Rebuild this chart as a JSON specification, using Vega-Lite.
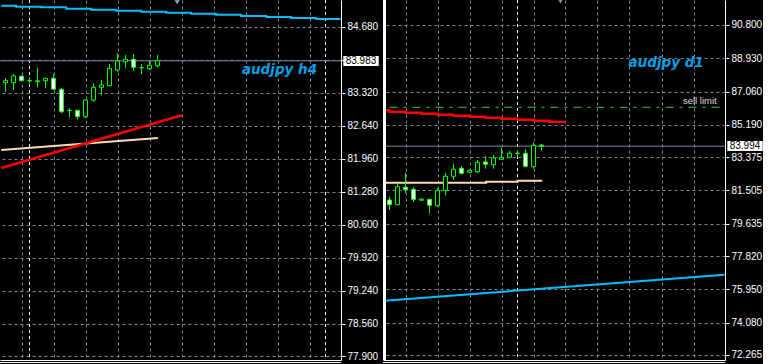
{
  "$schema": "https://vega.github.io/schema/vega-lite/v6.json",
  "background": "#000000",
  "padding": {"left": -4, "top": -2, "right": 0, "bottom": 0},
  "spacing": 42,
  "bounds": "flush",
  "config": {"view": {"stroke": null}},
  "datasets": {
    "candlesL": [
      {"i": 1, "o": 83.532, "h": 83.623, "l": 83.346, "c": 83.573},
      {"i": 2, "o": 83.532, "h": 83.711, "l": 83.381, "c": 83.670},
      {"i": 3, "o": 83.664, "h": 83.680, "l": 83.560, "c": 83.573},
      {"i": 4, "o": 83.575, "h": 83.643, "l": 83.520, "c": 83.571},
      {"i": 5, "o": 83.553, "h": 83.835, "l": 83.437, "c": 83.570},
      {"i": 6, "o": 83.573, "h": 83.623, "l": 83.417, "c": 83.623},
      {"i": 7, "o": 83.623, "h": 83.711, "l": 83.381, "c": 83.396},
      {"i": 8, "o": 83.396, "h": 83.423, "l": 82.901, "c": 82.934},
      {"i": 9, "o": 82.958, "h": 83.004, "l": 82.819, "c": 82.962},
      {"i": 10, "o": 82.963, "h": 82.970, "l": 82.778, "c": 82.831},
      {"i": 11, "o": 82.831, "h": 83.180, "l": 82.800, "c": 83.175},
      {"i": 12, "o": 83.175, "h": 83.520, "l": 83.140, "c": 83.437},
      {"i": 13, "o": 83.437, "h": 83.588, "l": 83.278, "c": 83.485},
      {"i": 14, "o": 83.470, "h": 83.917, "l": 83.470, "c": 83.829},
      {"i": 15, "o": 83.794, "h": 84.138, "l": 83.759, "c": 83.979},
      {"i": 16, "o": 83.965, "h": 84.103, "l": 83.829, "c": 84.014},
      {"i": 17, "o": 84.014, "h": 84.117, "l": 83.779, "c": 83.849},
      {"i": 18, "o": 83.843, "h": 83.917, "l": 83.711, "c": 83.839},
      {"i": 19, "o": 83.820, "h": 83.985, "l": 83.794, "c": 83.890},
      {"i": 20, "o": 83.882, "h": 84.103, "l": 83.841, "c": 83.983}
    ],
    "candlesR": [
      {"i": 1, "o": 80.971, "h": 81.156, "l": 80.409, "c": 80.707},
      {"i": 2, "o": 80.707, "h": 81.869, "l": 80.707, "c": 81.718},
      {"i": 3, "o": 81.684, "h": 82.504, "l": 81.347, "c": 81.549},
      {"i": 4, "o": 81.572, "h": 81.684, "l": 80.875, "c": 81.010},
      {"i": 5, "o": 80.960, "h": 81.083, "l": 80.915, "c": 81.020},
      {"i": 6, "o": 81.010, "h": 81.010, "l": 80.224, "c": 80.673},
      {"i": 7, "o": 80.651, "h": 81.628, "l": 80.594, "c": 81.516},
      {"i": 8, "o": 81.516, "h": 82.470, "l": 81.235, "c": 82.302},
      {"i": 9, "o": 82.302, "h": 82.993, "l": 82.094, "c": 82.695},
      {"i": 10, "o": 82.751, "h": 82.880, "l": 82.414, "c": 82.470},
      {"i": 11, "o": 82.527, "h": 82.695, "l": 82.470, "c": 82.639},
      {"i": 12, "o": 82.560, "h": 83.217, "l": 82.470, "c": 83.088},
      {"i": 13, "o": 83.105, "h": 83.442, "l": 82.729, "c": 82.976},
      {"i": 14, "o": 82.953, "h": 83.498, "l": 82.729, "c": 83.330},
      {"i": 15, "o": 83.257, "h": 83.908, "l": 83.257, "c": 83.369},
      {"i": 16, "o": 83.369, "h": 83.723, "l": 83.313, "c": 83.594},
      {"i": 17, "o": 83.598, "h": 83.779, "l": 83.403, "c": 83.590},
      {"i": 18, "o": 83.594, "h": 83.835, "l": 82.807, "c": 82.864},
      {"i": 19, "o": 82.841, "h": 84.212, "l": 82.729, "c": 84.043},
      {"i": 20, "o": 84.050, "h": 84.116, "l": 83.740, "c": 83.994}
    ],
    "linesL": [
      {"name": "blue", "i": 0.47, "p": 85.119},
      {"name": "blue", "i": 2.34, "p": 85.098},
      {"name": "blue", "i": 5.46, "p": 85.086},
      {"name": "blue", "i": 8.59, "p": 85.057},
      {"name": "blue", "i": 11.71, "p": 85.036},
      {"name": "blue", "i": 14.84, "p": 85.016},
      {"name": "blue", "i": 17.96, "p": 84.995},
      {"name": "blue", "i": 21.09, "p": 84.974},
      {"name": "blue", "i": 24.21, "p": 84.954},
      {"name": "blue", "i": 27.34, "p": 84.933},
      {"name": "blue", "i": 30.46, "p": 84.906},
      {"name": "blue", "i": 33.59, "p": 84.886},
      {"name": "blue", "i": 36.71, "p": 84.865},
      {"name": "blue", "i": 39.84, "p": 84.845},
      {"name": "blue", "i": 42.9, "p": 84.845},
      {"name": "red", "i": 0.47, "p": 81.775},
      {"name": "red", "i": 23.05, "p": 82.860},
      {"name": "tan", "i": 0.47, "p": 82.147},
      {"name": "tan", "i": 20.05, "p": 82.392}
    ],
    "linesR": [
      {"name": "red", "i": 0.375, "p": 86.009},
      {"name": "red", "i": 1, "p": 85.930},
      {"name": "red", "i": 3, "p": 85.874},
      {"name": "red", "i": 5, "p": 85.818},
      {"name": "red", "i": 7, "p": 85.762},
      {"name": "red", "i": 9, "p": 85.706},
      {"name": "red", "i": 11, "p": 85.650},
      {"name": "red", "i": 13, "p": 85.593},
      {"name": "red", "i": 15, "p": 85.537},
      {"name": "red", "i": 17, "p": 85.481},
      {"name": "red", "i": 19, "p": 85.425},
      {"name": "red", "i": 21, "p": 85.369},
      {"name": "red", "i": 23.05, "p": 85.369},
      {"name": "tan", "i": 0.375, "p": 81.942},
      {"name": "tan", "i": 13.09, "p": 82.000},
      {"name": "tan", "i": 17, "p": 82.055},
      {"name": "tan", "i": 20.09, "p": 82.055},
      {"name": "blue", "i": 0.375, "p": 75.305},
      {"name": "blue", "i": 42.9, "p": 76.775},
      {"name": "sell", "i": 1, "p": 86.177},
      {"name": "sell", "i": 42.34, "p": 86.177}
    ],
    "sepL": [{"i": 4}, {"i": 41}],
    "sepR": [{"i": 17}],
    "lastL": [{"p": 83.983, "x": 43.225, "x2": 47.65, "xm": 45.44, "top": 84.082, "bot": 83.876}],
    "lastR": [{"p": 83.994, "x": 43.225, "x2": 47.65, "xm": 45.44, "top": 84.285, "bot": 83.723}],
    "labelL": [{"i": 30.55, "p": 83.711, "label": "audjpy h4"}],
    "labelR": [{"i": 30.875, "p": 88.413, "label": "audjpy d1"}, {"i": 37.675, "p": 86.363, "label": "sell limit", "small": true}],
    "markL": [{"i": 22.46, "p": 85.205}],
    "markR": [{"i": 22.375, "p": 92.176}],
    "bottomL": [{"p": 77.7665}],
    "bottomR": [{"p": 71.8435}],
    "borderR": [{"i": 0.375}]
  },
  "hconcat": [
    {
      "width": 341,
      "height": 360,
      "layer": [
        {
          "data": {"name": "sepL"},
          "mark": {"type": "rule", "color": "#FFFFFF", "strokeDash": [3, 3], "strokeWidth": 1},
          "encoding": {
            "x": {"field": "i", "type": "quantitative", "title": null,
              "scale": {"domain": [0.3125, 42.9375], "nice": false, "zero": false, "padding": 0},
              "axis": {"title": null, "orient": "bottom", "values": [3, 7, 11, 15, 19, 23, 27, 31, 35, 39], "labels": false, "ticks": false, "domain": true, "domainColor": "#FFFFFF", "domainWidth": 1, "grid": true, "gridColor": "#778899", "gridDash": [3, 3], "gridWidth": 1}}
          }
        },
        {
          "data": {"name": "lastL"},
          "mark": {"type": "rule", "color": "#778899", "strokeWidth": 1},
          "encoding": {
            "y": {"field": "p", "type": "quantitative", "title": null,
              "scale": {"domain": [77.818, 85.236], "nice": false, "zero": false, "padding": 0},
              "axis": {"title": null, "orient": "right", "values": [77.9, 78.56, 79.24, 79.92, 80.6, 81.28, 81.96, 82.64, 83.32, 84.0, 84.68], "labelExpr": "datum.value == 84 ? '' : format(datum.value, '.3f')", "labelColor": "#FFFFFF", "labelFont": "Liberation Sans", "labelFontSize": 10, "labelPadding": 2, "labelOverlap": false, "labelFlush": false, "tickColor": "#FFFFFF", "tickSize": 4, "domainColor": "#FFFFFF", "domainWidth": 1, "grid": true, "gridColor": "#778899", "gridDash": [3, 3], "gridWidth": 1}}
          }
        },
        {
          "data": {"name": "linesL"},
          "transform": [{"filter": "datum.name == 'blue'"}],
          "mark": {"type": "line", "color": "#00BFFF", "strokeWidth": 2, "interpolate": "step-after"},
          "encoding": {
            "x": {"field": "i", "type": "quantitative", "title": null, "axis": {"title": null, "orient": "bottom", "values": [3, 7, 11, 15, 19, 23, 27, 31, 35, 39], "labels": false, "ticks": false, "domain": true, "domainColor": "#FFFFFF", "domainWidth": 1, "grid": true, "gridColor": "#778899", "gridDash": [3, 3], "gridWidth": 1}},
            "y": {"field": "p", "type": "quantitative", "title": null, "axis": {"title": null, "orient": "right", "values": [77.9, 78.56, 79.24, 79.92, 80.6, 81.28, 81.96, 82.64, 83.32, 84.0, 84.68], "labelExpr": "datum.value == 84 ? '' : format(datum.value, '.3f')", "labelColor": "#FFFFFF", "labelFont": "Liberation Sans", "labelFontSize": 10, "labelPadding": 2, "labelOverlap": false, "labelFlush": false, "tickColor": "#FFFFFF", "tickSize": 4, "domainColor": "#FFFFFF", "domainWidth": 1, "grid": true, "gridColor": "#778899", "gridDash": [3, 3], "gridWidth": 1}}
          }
        },
        {
          "data": {"name": "linesL"},
          "transform": [{"filter": "datum.name == 'tan'"}],
          "mark": {"type": "line", "color": "#FFDAB9", "strokeWidth": 2},
          "encoding": {
            "x": {"field": "i", "type": "quantitative", "title": null, "axis": {"title": null, "orient": "bottom", "values": [3, 7, 11, 15, 19, 23, 27, 31, 35, 39], "labels": false, "ticks": false, "domain": true, "domainColor": "#FFFFFF", "domainWidth": 1, "grid": true, "gridColor": "#778899", "gridDash": [3, 3], "gridWidth": 1}},
            "y": {"field": "p", "type": "quantitative", "title": null, "axis": {"title": null, "orient": "right", "values": [77.9, 78.56, 79.24, 79.92, 80.6, 81.28, 81.96, 82.64, 83.32, 84.0, 84.68], "labelExpr": "datum.value == 84 ? '' : format(datum.value, '.3f')", "labelColor": "#FFFFFF", "labelFont": "Liberation Sans", "labelFontSize": 10, "labelPadding": 2, "labelOverlap": false, "labelFlush": false, "tickColor": "#FFFFFF", "tickSize": 4, "domainColor": "#FFFFFF", "domainWidth": 1, "grid": true, "gridColor": "#778899", "gridDash": [3, 3], "gridWidth": 1}}
          }
        },
        {
          "data": {"name": "linesL"},
          "transform": [{"filter": "datum.name == 'red'"}],
          "mark": {"type": "line", "color": "#FF0000", "strokeWidth": 2.5},
          "encoding": {
            "x": {"field": "i", "type": "quantitative", "title": null, "axis": {"title": null, "orient": "bottom", "values": [3, 7, 11, 15, 19, 23, 27, 31, 35, 39], "labels": false, "ticks": false, "domain": true, "domainColor": "#FFFFFF", "domainWidth": 1, "grid": true, "gridColor": "#778899", "gridDash": [3, 3], "gridWidth": 1}},
            "y": {"field": "p", "type": "quantitative", "title": null, "axis": {"title": null, "orient": "right", "values": [77.9, 78.56, 79.24, 79.92, 80.6, 81.28, 81.96, 82.64, 83.32, 84.0, 84.68], "labelExpr": "datum.value == 84 ? '' : format(datum.value, '.3f')", "labelColor": "#FFFFFF", "labelFont": "Liberation Sans", "labelFontSize": 10, "labelPadding": 2, "labelOverlap": false, "labelFlush": false, "tickColor": "#FFFFFF", "tickSize": 4, "domainColor": "#FFFFFF", "domainWidth": 1, "grid": true, "gridColor": "#778899", "gridDash": [3, 3], "gridWidth": 1}}
          }
        },
        {
          "data": {"name": "candlesL"},
          "mark": {"type": "rule", "color": "#00FF00", "strokeWidth": 1},
          "encoding": {
            "x": {"field": "i", "type": "quantitative", "title": null, "axis": {"title": null, "orient": "bottom", "values": [3, 7, 11, 15, 19, 23, 27, 31, 35, 39], "labels": false, "ticks": false, "domain": true, "domainColor": "#FFFFFF", "domainWidth": 1, "grid": true, "gridColor": "#778899", "gridDash": [3, 3], "gridWidth": 1}},
            "y": {"field": "l", "type": "quantitative", "title": null, "axis": {"title": null, "orient": "right", "values": [77.9, 78.56, 79.24, 79.92, 80.6, 81.28, 81.96, 82.64, 83.32, 84.0, 84.68], "labelExpr": "datum.value == 84 ? '' : format(datum.value, '.3f')", "labelColor": "#FFFFFF", "labelFont": "Liberation Sans", "labelFontSize": 10, "labelPadding": 2, "labelOverlap": false, "labelFlush": false, "tickColor": "#FFFFFF", "tickSize": 4, "domainColor": "#FFFFFF", "domainWidth": 1, "grid": true, "gridColor": "#778899", "gridDash": [3, 3], "gridWidth": 1}},
            "y2": {"field": "h", "title": null}
          }
        },
        {
          "data": {"name": "candlesL"},
          "mark": {"type": "bar", "width": 4, "stroke": "#00FF00", "strokeWidth": 1},
          "encoding": {
            "x": {"field": "i", "type": "quantitative", "title": null, "axis": {"title": null, "orient": "bottom", "values": [3, 7, 11, 15, 19, 23, 27, 31, 35, 39], "labels": false, "ticks": false, "domain": true, "domainColor": "#FFFFFF", "domainWidth": 1, "grid": true, "gridColor": "#778899", "gridDash": [3, 3], "gridWidth": 1}},
            "y": {"field": "o", "type": "quantitative", "title": null, "axis": {"title": null, "orient": "right", "values": [77.9, 78.56, 79.24, 79.92, 80.6, 81.28, 81.96, 82.64, 83.32, 84.0, 84.68], "labelExpr": "datum.value == 84 ? '' : format(datum.value, '.3f')", "labelColor": "#FFFFFF", "labelFont": "Liberation Sans", "labelFontSize": 10, "labelPadding": 2, "labelOverlap": false, "labelFlush": false, "tickColor": "#FFFFFF", "tickSize": 4, "domainColor": "#FFFFFF", "domainWidth": 1, "grid": true, "gridColor": "#778899", "gridDash": [3, 3], "gridWidth": 1}},
            "y2": {"field": "c", "title": null},
            "fill": {"condition": {"test": "datum.c > datum.o", "value": "#000000"}, "value": "#FFFFFF"}
          }
        },
        {
          "data": {"name": "labelL"},
          "mark": {"type": "text", "align": "left", "baseline": "alphabetic", "font": "DejaVu Sans", "fontStyle": "italic", "fontWeight": "bold", "fontSize": 13.5, "color": "#00A0E8"},
          "encoding": {
            "x": {"field": "i", "type": "quantitative", "title": null, "axis": {"title": null, "orient": "bottom", "values": [3, 7, 11, 15, 19, 23, 27, 31, 35, 39], "labels": false, "ticks": false, "domain": true, "domainColor": "#FFFFFF", "domainWidth": 1, "grid": true, "gridColor": "#778899", "gridDash": [3, 3], "gridWidth": 1}},
            "y": {"field": "p", "type": "quantitative", "title": null, "axis": {"title": null, "orient": "right", "values": [77.9, 78.56, 79.24, 79.92, 80.6, 81.28, 81.96, 82.64, 83.32, 84.0, 84.68], "labelExpr": "datum.value == 84 ? '' : format(datum.value, '.3f')", "labelColor": "#FFFFFF", "labelFont": "Liberation Sans", "labelFontSize": 10, "labelPadding": 2, "labelOverlap": false, "labelFlush": false, "tickColor": "#FFFFFF", "tickSize": 4, "domainColor": "#FFFFFF", "domainWidth": 1, "grid": true, "gridColor": "#778899", "gridDash": [3, 3], "gridWidth": 1}},
            "text": {"field": "label"}
          }
        },
        {
          "data": {"name": "lastL"},
          "mark": {"type": "rect", "color": "#FFFFFF"},
          "encoding": {
            "x": {"field": "x", "type": "quantitative", "title": null, "axis": {"title": null, "orient": "bottom", "values": [3, 7, 11, 15, 19, 23, 27, 31, 35, 39], "labels": false, "ticks": false, "domain": true, "domainColor": "#FFFFFF", "domainWidth": 1, "grid": true, "gridColor": "#778899", "gridDash": [3, 3], "gridWidth": 1}},
            "x2": {"field": "x2", "title": null},
            "y": {"field": "top", "type": "quantitative", "title": null, "axis": {"title": null, "orient": "right", "values": [77.9, 78.56, 79.24, 79.92, 80.6, 81.28, 81.96, 82.64, 83.32, 84.0, 84.68], "labelExpr": "datum.value == 84 ? '' : format(datum.value, '.3f')", "labelColor": "#FFFFFF", "labelFont": "Liberation Sans", "labelFontSize": 10, "labelPadding": 2, "labelOverlap": false, "labelFlush": false, "tickColor": "#FFFFFF", "tickSize": 4, "domainColor": "#FFFFFF", "domainWidth": 1, "grid": true, "gridColor": "#778899", "gridDash": [3, 3], "gridWidth": 1}},
            "y2": {"field": "bot", "title": null}
          }
        },
        {
          "data": {"name": "lastL"},
          "mark": {"type": "text", "align": "center", "baseline": "middle", "font": "Liberation Sans", "fontSize": 10, "color": "#000000"},
          "encoding": {
            "x": {"field": "xm", "type": "quantitative", "title": null, "axis": {"title": null, "orient": "bottom", "values": [3, 7, 11, 15, 19, 23, 27, 31, 35, 39], "labels": false, "ticks": false, "domain": true, "domainColor": "#FFFFFF", "domainWidth": 1, "grid": true, "gridColor": "#778899", "gridDash": [3, 3], "gridWidth": 1}},
            "y": {"field": "p", "type": "quantitative", "title": null, "axis": {"title": null, "orient": "right", "values": [77.9, 78.56, 79.24, 79.92, 80.6, 81.28, 81.96, 82.64, 83.32, 84.0, 84.68], "labelExpr": "datum.value == 84 ? '' : format(datum.value, '.3f')", "labelColor": "#FFFFFF", "labelFont": "Liberation Sans", "labelFontSize": 10, "labelPadding": 2, "labelOverlap": false, "labelFlush": false, "tickColor": "#FFFFFF", "tickSize": 4, "domainColor": "#FFFFFF", "domainWidth": 1, "grid": true, "gridColor": "#778899", "gridDash": [3, 3], "gridWidth": 1}},
            "text": {"field": "p", "type": "quantitative", "format": ".3f"}
          }
        },
        {
          "data": {"name": "bottomL"},
          "mark": {"type": "rule", "color": "#FFFFFF", "strokeWidth": 1},
          "encoding": {
            "y": {"field": "p", "type": "quantitative", "title": null, "axis": {"title": null, "orient": "right", "values": [77.9, 78.56, 79.24, 79.92, 80.6, 81.28, 81.96, 82.64, 83.32, 84.0, 84.68], "labelExpr": "datum.value == 84 ? '' : format(datum.value, '.3f')", "labelColor": "#FFFFFF", "labelFont": "Liberation Sans", "labelFontSize": 10, "labelPadding": 2, "labelOverlap": false, "labelFlush": false, "tickColor": "#FFFFFF", "tickSize": 4, "domainColor": "#FFFFFF", "domainWidth": 1, "grid": true, "gridColor": "#778899", "gridDash": [3, 3], "gridWidth": 1}}
          }
        },
        {
          "data": {"name": "markL"},
          "mark": {"type": "point", "shape": "triangle-down", "filled": true, "color": "#8A9AAA", "size": 50, "opacity": 1, "clip": true},
          "encoding": {
            "x": {"field": "i", "type": "quantitative", "title": null, "axis": {"title": null, "orient": "bottom", "values": [3, 7, 11, 15, 19, 23, 27, 31, 35, 39], "labels": false, "ticks": false, "domain": true, "domainColor": "#FFFFFF", "domainWidth": 1, "grid": true, "gridColor": "#778899", "gridDash": [3, 3], "gridWidth": 1}},
            "y": {"field": "p", "type": "quantitative", "title": null, "axis": {"title": null, "orient": "right", "values": [77.9, 78.56, 79.24, 79.92, 80.6, 81.28, 81.96, 82.64, 83.32, 84.0, 84.68], "labelExpr": "datum.value == 84 ? '' : format(datum.value, '.3f')", "labelColor": "#FFFFFF", "labelFont": "Liberation Sans", "labelFontSize": 10, "labelPadding": 2, "labelOverlap": false, "labelFlush": false, "tickColor": "#FFFFFF", "tickSize": 4, "domainColor": "#FFFFFF", "domainWidth": 1, "grid": true, "gridColor": "#778899", "gridDash": [3, 3], "gridWidth": 1}}
          }
        }
      ]
    },
    {
      "width": 342,
      "height": 360,
      "layer": [
        {
          "data": {"name": "sepR"},
          "mark": {"type": "rule", "color": "#FFFFFF", "strokeDash": [3, 3], "strokeWidth": 1},
          "encoding": {
            "x": {"field": "i", "type": "quantitative", "title": null,
              "scale": {"domain": [0.1875, 42.9375], "nice": false, "zero": false, "padding": 0},
              "axis": {"title": null, "orient": "bottom", "values": [3, 7, 11, 15, 19, 23, 27, 31, 35, 39], "labels": false, "ticks": false, "domain": true, "domainColor": "#FFFFFF", "domainWidth": 1, "grid": true, "gridColor": "#778899", "gridDash": [3, 3], "gridWidth": 1}}
          }
        },
        {
          "data": {"name": "lastR"},
          "mark": {"type": "rule", "color": "#778899", "strokeWidth": 1},
          "encoding": {
            "y": {"field": "p", "type": "quantitative", "title": null,
              "scale": {"domain": [71.984, 92.204], "nice": false, "zero": false, "padding": 0},
              "axis": {"title": null, "orient": "right", "values": [72.265, 74.08, 75.95, 77.82, 79.635, 81.505, 83.375, 85.19, 87.06, 88.93, 90.8], "format": ".3f", "labelColor": "#FFFFFF", "labelFont": "Liberation Sans", "labelFontSize": 10, "labelPadding": 2, "labelOverlap": false, "labelFlush": false, "tickColor": "#FFFFFF", "tickSize": 4, "domainColor": "#FFFFFF", "domainWidth": 1, "grid": true, "gridColor": "#778899", "gridDash": [3, 3], "gridWidth": 1}}
          }
        },
        {
          "data": {"name": "linesR"},
          "transform": [{"filter": "datum.name == 'sell'"}],
          "mark": {"type": "line", "color": "#32CD32", "strokeWidth": 1, "strokeDash": [8, 6, 3, 6]},
          "encoding": {
            "x": {"field": "i", "type": "quantitative", "title": null, "axis": {"title": null, "orient": "bottom", "values": [3, 7, 11, 15, 19, 23, 27, 31, 35, 39], "labels": false, "ticks": false, "domain": true, "domainColor": "#FFFFFF", "domainWidth": 1, "grid": true, "gridColor": "#778899", "gridDash": [3, 3], "gridWidth": 1}},
            "y": {"field": "p", "type": "quantitative", "title": null, "axis": {"title": null, "orient": "right", "values": [72.265, 74.08, 75.95, 77.82, 79.635, 81.505, 83.375, 85.19, 87.06, 88.93, 90.8], "format": ".3f", "labelColor": "#FFFFFF", "labelFont": "Liberation Sans", "labelFontSize": 10, "labelPadding": 2, "labelOverlap": false, "labelFlush": false, "tickColor": "#FFFFFF", "tickSize": 4, "domainColor": "#FFFFFF", "domainWidth": 1, "grid": true, "gridColor": "#778899", "gridDash": [3, 3], "gridWidth": 1}}
          }
        },
        {
          "data": {"name": "linesR"},
          "transform": [{"filter": "datum.name == 'blue'"}],
          "mark": {"type": "line", "color": "#00BFFF", "strokeWidth": 2},
          "encoding": {
            "x": {"field": "i", "type": "quantitative", "title": null, "axis": {"title": null, "orient": "bottom", "values": [3, 7, 11, 15, 19, 23, 27, 31, 35, 39], "labels": false, "ticks": false, "domain": true, "domainColor": "#FFFFFF", "domainWidth": 1, "grid": true, "gridColor": "#778899", "gridDash": [3, 3], "gridWidth": 1}},
            "y": {"field": "p", "type": "quantitative", "title": null, "axis": {"title": null, "orient": "right", "values": [72.265, 74.08, 75.95, 77.82, 79.635, 81.505, 83.375, 85.19, 87.06, 88.93, 90.8], "format": ".3f", "labelColor": "#FFFFFF", "labelFont": "Liberation Sans", "labelFontSize": 10, "labelPadding": 2, "labelOverlap": false, "labelFlush": false, "tickColor": "#FFFFFF", "tickSize": 4, "domainColor": "#FFFFFF", "domainWidth": 1, "grid": true, "gridColor": "#778899", "gridDash": [3, 3], "gridWidth": 1}}
          }
        },
        {
          "data": {"name": "linesR"},
          "transform": [{"filter": "datum.name == 'tan'"}],
          "mark": {"type": "line", "color": "#FFDAB9", "strokeWidth": 2, "interpolate": "step-after"},
          "encoding": {
            "x": {"field": "i", "type": "quantitative", "title": null, "axis": {"title": null, "orient": "bottom", "values": [3, 7, 11, 15, 19, 23, 27, 31, 35, 39], "labels": false, "ticks": false, "domain": true, "domainColor": "#FFFFFF", "domainWidth": 1, "grid": true, "gridColor": "#778899", "gridDash": [3, 3], "gridWidth": 1}},
            "y": {"field": "p", "type": "quantitative", "title": null, "axis": {"title": null, "orient": "right", "values": [72.265, 74.08, 75.95, 77.82, 79.635, 81.505, 83.375, 85.19, 87.06, 88.93, 90.8], "format": ".3f", "labelColor": "#FFFFFF", "labelFont": "Liberation Sans", "labelFontSize": 10, "labelPadding": 2, "labelOverlap": false, "labelFlush": false, "tickColor": "#FFFFFF", "tickSize": 4, "domainColor": "#FFFFFF", "domainWidth": 1, "grid": true, "gridColor": "#778899", "gridDash": [3, 3], "gridWidth": 1}}
          }
        },
        {
          "data": {"name": "linesR"},
          "transform": [{"filter": "datum.name == 'red'"}],
          "mark": {"type": "line", "color": "#FF0000", "strokeWidth": 2.5, "interpolate": "step-after"},
          "encoding": {
            "x": {"field": "i", "type": "quantitative", "title": null, "axis": {"title": null, "orient": "bottom", "values": [3, 7, 11, 15, 19, 23, 27, 31, 35, 39], "labels": false, "ticks": false, "domain": true, "domainColor": "#FFFFFF", "domainWidth": 1, "grid": true, "gridColor": "#778899", "gridDash": [3, 3], "gridWidth": 1}},
            "y": {"field": "p", "type": "quantitative", "title": null, "axis": {"title": null, "orient": "right", "values": [72.265, 74.08, 75.95, 77.82, 79.635, 81.505, 83.375, 85.19, 87.06, 88.93, 90.8], "format": ".3f", "labelColor": "#FFFFFF", "labelFont": "Liberation Sans", "labelFontSize": 10, "labelPadding": 2, "labelOverlap": false, "labelFlush": false, "tickColor": "#FFFFFF", "tickSize": 4, "domainColor": "#FFFFFF", "domainWidth": 1, "grid": true, "gridColor": "#778899", "gridDash": [3, 3], "gridWidth": 1}}
          }
        },
        {
          "data": {"name": "candlesR"},
          "mark": {"type": "rule", "color": "#00FF00", "strokeWidth": 1},
          "encoding": {
            "x": {"field": "i", "type": "quantitative", "title": null, "axis": {"title": null, "orient": "bottom", "values": [3, 7, 11, 15, 19, 23, 27, 31, 35, 39], "labels": false, "ticks": false, "domain": true, "domainColor": "#FFFFFF", "domainWidth": 1, "grid": true, "gridColor": "#778899", "gridDash": [3, 3], "gridWidth": 1}},
            "y": {"field": "l", "type": "quantitative", "title": null, "axis": {"title": null, "orient": "right", "values": [72.265, 74.08, 75.95, 77.82, 79.635, 81.505, 83.375, 85.19, 87.06, 88.93, 90.8], "format": ".3f", "labelColor": "#FFFFFF", "labelFont": "Liberation Sans", "labelFontSize": 10, "labelPadding": 2, "labelOverlap": false, "labelFlush": false, "tickColor": "#FFFFFF", "tickSize": 4, "domainColor": "#FFFFFF", "domainWidth": 1, "grid": true, "gridColor": "#778899", "gridDash": [3, 3], "gridWidth": 1}},
            "y2": {"field": "h", "title": null}
          }
        },
        {
          "data": {"name": "candlesR"},
          "mark": {"type": "bar", "width": 4, "stroke": "#00FF00", "strokeWidth": 1},
          "encoding": {
            "x": {"field": "i", "type": "quantitative", "title": null, "axis": {"title": null, "orient": "bottom", "values": [3, 7, 11, 15, 19, 23, 27, 31, 35, 39], "labels": false, "ticks": false, "domain": true, "domainColor": "#FFFFFF", "domainWidth": 1, "grid": true, "gridColor": "#778899", "gridDash": [3, 3], "gridWidth": 1}},
            "y": {"field": "o", "type": "quantitative", "title": null, "axis": {"title": null, "orient": "right", "values": [72.265, 74.08, 75.95, 77.82, 79.635, 81.505, 83.375, 85.19, 87.06, 88.93, 90.8], "format": ".3f", "labelColor": "#FFFFFF", "labelFont": "Liberation Sans", "labelFontSize": 10, "labelPadding": 2, "labelOverlap": false, "labelFlush": false, "tickColor": "#FFFFFF", "tickSize": 4, "domainColor": "#FFFFFF", "domainWidth": 1, "grid": true, "gridColor": "#778899", "gridDash": [3, 3], "gridWidth": 1}},
            "y2": {"field": "c", "title": null},
            "fill": {"condition": {"test": "datum.c > datum.o", "value": "#000000"}, "value": "#FFFFFF"}
          }
        },
        {
          "data": {"name": "labelR"},
          "transform": [{"filter": "!datum.small"}],
          "mark": {"type": "text", "align": "left", "baseline": "alphabetic", "font": "DejaVu Sans", "fontStyle": "italic", "fontWeight": "bold", "fontSize": 13.5, "color": "#00A0E8"},
          "encoding": {
            "x": {"field": "i", "type": "quantitative", "title": null, "axis": {"title": null, "orient": "bottom", "values": [3, 7, 11, 15, 19, 23, 27, 31, 35, 39], "labels": false, "ticks": false, "domain": true, "domainColor": "#FFFFFF", "domainWidth": 1, "grid": true, "gridColor": "#778899", "gridDash": [3, 3], "gridWidth": 1}},
            "y": {"field": "p", "type": "quantitative", "title": null, "axis": {"title": null, "orient": "right", "values": [72.265, 74.08, 75.95, 77.82, 79.635, 81.505, 83.375, 85.19, 87.06, 88.93, 90.8], "format": ".3f", "labelColor": "#FFFFFF", "labelFont": "Liberation Sans", "labelFontSize": 10, "labelPadding": 2, "labelOverlap": false, "labelFlush": false, "tickColor": "#FFFFFF", "tickSize": 4, "domainColor": "#FFFFFF", "domainWidth": 1, "grid": true, "gridColor": "#778899", "gridDash": [3, 3], "gridWidth": 1}},
            "text": {"field": "label"}
          }
        },
        {
          "data": {"name": "labelR"},
          "transform": [{"filter": "datum.small"}],
          "mark": {"type": "text", "align": "left", "baseline": "alphabetic", "font": "Liberation Sans", "fontSize": 9.5, "color": "#DDDDDD"},
          "encoding": {
            "x": {"field": "i", "type": "quantitative", "title": null, "axis": {"title": null, "orient": "bottom", "values": [3, 7, 11, 15, 19, 23, 27, 31, 35, 39], "labels": false, "ticks": false, "domain": true, "domainColor": "#FFFFFF", "domainWidth": 1, "grid": true, "gridColor": "#778899", "gridDash": [3, 3], "gridWidth": 1}},
            "y": {"field": "p", "type": "quantitative", "title": null, "axis": {"title": null, "orient": "right", "values": [72.265, 74.08, 75.95, 77.82, 79.635, 81.505, 83.375, 85.19, 87.06, 88.93, 90.8], "format": ".3f", "labelColor": "#FFFFFF", "labelFont": "Liberation Sans", "labelFontSize": 10, "labelPadding": 2, "labelOverlap": false, "labelFlush": false, "tickColor": "#FFFFFF", "tickSize": 4, "domainColor": "#FFFFFF", "domainWidth": 1, "grid": true, "gridColor": "#778899", "gridDash": [3, 3], "gridWidth": 1}},
            "text": {"field": "label"}
          }
        },
        {
          "data": {"name": "lastR"},
          "mark": {"type": "rect", "color": "#FFFFFF"},
          "encoding": {
            "x": {"field": "x", "type": "quantitative", "title": null, "axis": {"title": null, "orient": "bottom", "values": [3, 7, 11, 15, 19, 23, 27, 31, 35, 39], "labels": false, "ticks": false, "domain": true, "domainColor": "#FFFFFF", "domainWidth": 1, "grid": true, "gridColor": "#778899", "gridDash": [3, 3], "gridWidth": 1}},
            "x2": {"field": "x2", "title": null},
            "y": {"field": "top", "type": "quantitative", "title": null, "axis": {"title": null, "orient": "right", "values": [72.265, 74.08, 75.95, 77.82, 79.635, 81.505, 83.375, 85.19, 87.06, 88.93, 90.8], "format": ".3f", "labelColor": "#FFFFFF", "labelFont": "Liberation Sans", "labelFontSize": 10, "labelPadding": 2, "labelOverlap": false, "labelFlush": false, "tickColor": "#FFFFFF", "tickSize": 4, "domainColor": "#FFFFFF", "domainWidth": 1, "grid": true, "gridColor": "#778899", "gridDash": [3, 3], "gridWidth": 1}},
            "y2": {"field": "bot", "title": null}
          }
        },
        {
          "data": {"name": "lastR"},
          "mark": {"type": "text", "align": "center", "baseline": "middle", "font": "Liberation Sans", "fontSize": 10, "color": "#000000"},
          "encoding": {
            "x": {"field": "xm", "type": "quantitative", "title": null, "axis": {"title": null, "orient": "bottom", "values": [3, 7, 11, 15, 19, 23, 27, 31, 35, 39], "labels": false, "ticks": false, "domain": true, "domainColor": "#FFFFFF", "domainWidth": 1, "grid": true, "gridColor": "#778899", "gridDash": [3, 3], "gridWidth": 1}},
            "y": {"field": "p", "type": "quantitative", "title": null, "axis": {"title": null, "orient": "right", "values": [72.265, 74.08, 75.95, 77.82, 79.635, 81.505, 83.375, 85.19, 87.06, 88.93, 90.8], "format": ".3f", "labelColor": "#FFFFFF", "labelFont": "Liberation Sans", "labelFontSize": 10, "labelPadding": 2, "labelOverlap": false, "labelFlush": false, "tickColor": "#FFFFFF", "tickSize": 4, "domainColor": "#FFFFFF", "domainWidth": 1, "grid": true, "gridColor": "#778899", "gridDash": [3, 3], "gridWidth": 1}},
            "text": {"field": "p", "type": "quantitative", "format": ".3f"}
          }
        },
        {
          "data": {"name": "bottomR"},
          "mark": {"type": "rule", "color": "#FFFFFF", "strokeWidth": 1},
          "encoding": {
            "y": {"field": "p", "type": "quantitative", "title": null, "axis": {"title": null, "orient": "right", "values": [72.265, 74.08, 75.95, 77.82, 79.635, 81.505, 83.375, 85.19, 87.06, 88.93, 90.8], "format": ".3f", "labelColor": "#FFFFFF", "labelFont": "Liberation Sans", "labelFontSize": 10, "labelPadding": 2, "labelOverlap": false, "labelFlush": false, "tickColor": "#FFFFFF", "tickSize": 4, "domainColor": "#FFFFFF", "domainWidth": 1, "grid": true, "gridColor": "#778899", "gridDash": [3, 3], "gridWidth": 1}}
          }
        },
        {
          "data": {"name": "borderR"},
          "mark": {"type": "rule", "color": "#FFFFFF", "strokeWidth": 3},
          "encoding": {
            "x": {"field": "i", "type": "quantitative", "title": null, "axis": {"title": null, "orient": "bottom", "values": [3, 7, 11, 15, 19, 23, 27, 31, 35, 39], "labels": false, "ticks": false, "domain": true, "domainColor": "#FFFFFF", "domainWidth": 1, "grid": true, "gridColor": "#778899", "gridDash": [3, 3], "gridWidth": 1}}
          }
        },
        {
          "data": {"name": "markR"},
          "mark": {"type": "point", "shape": "triangle-down", "filled": true, "color": "#8A9AAA", "size": 50, "opacity": 1, "clip": true},
          "encoding": {
            "x": {"field": "i", "type": "quantitative", "title": null, "axis": {"title": null, "orient": "bottom", "values": [3, 7, 11, 15, 19, 23, 27, 31, 35, 39], "labels": false, "ticks": false, "domain": true, "domainColor": "#FFFFFF", "domainWidth": 1, "grid": true, "gridColor": "#778899", "gridDash": [3, 3], "gridWidth": 1}},
            "y": {"field": "p", "type": "quantitative", "title": null, "axis": {"title": null, "orient": "right", "values": [72.265, 74.08, 75.95, 77.82, 79.635, 81.505, 83.375, 85.19, 87.06, 88.93, 90.8], "format": ".3f", "labelColor": "#FFFFFF", "labelFont": "Liberation Sans", "labelFontSize": 10, "labelPadding": 2, "labelOverlap": false, "labelFlush": false, "tickColor": "#FFFFFF", "tickSize": 4, "domainColor": "#FFFFFF", "domainWidth": 1, "grid": true, "gridColor": "#778899", "gridDash": [3, 3], "gridWidth": 1}}
          }
        }
      ]
    }
  ]
}
